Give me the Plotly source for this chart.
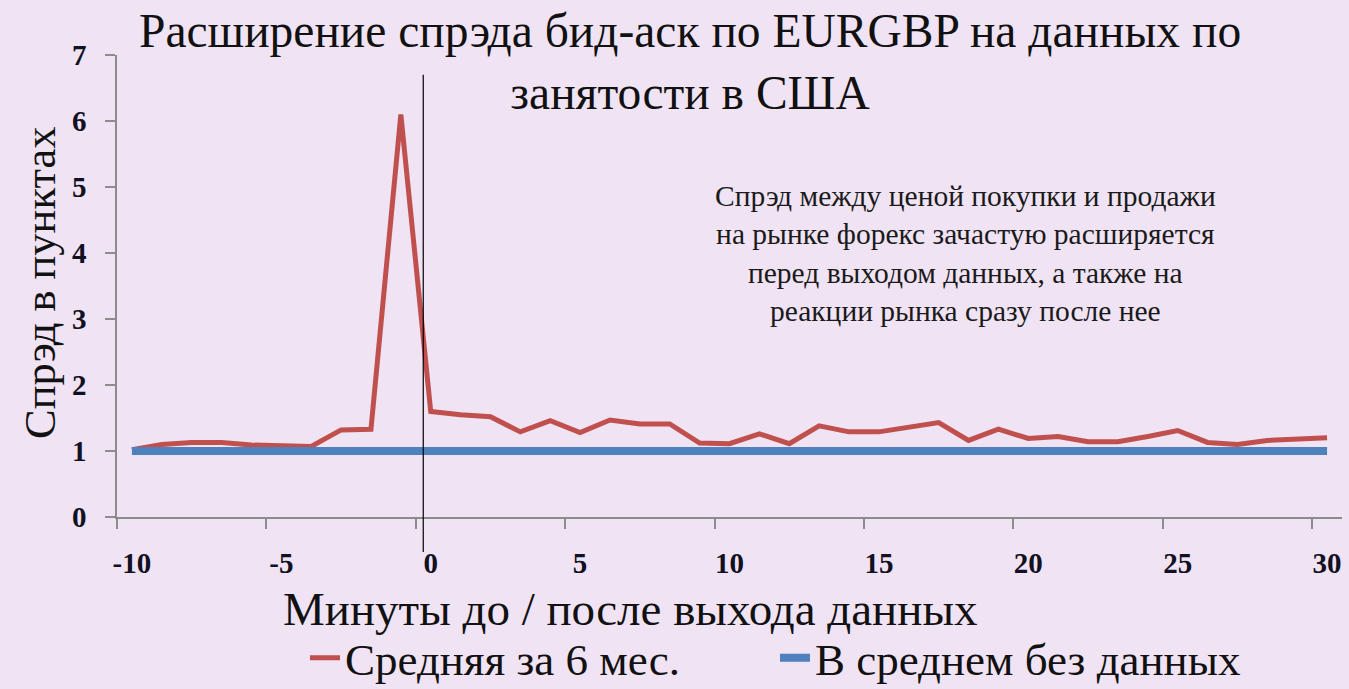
import plotly.graph_objects as go

# ---- data ----
minutes = list(range(-10, 31))
avg_6m = [1.02, 1.10, 1.13, 1.13, 1.09, 1.08, 1.07, 1.32, 1.33, 6.10,
          1.60, 1.55, 1.52, 1.29, 1.46, 1.28, 1.47, 1.41, 1.41, 1.12,
          1.11, 1.26, 1.11, 1.38, 1.29, 1.29, 1.36, 1.43, 1.16, 1.33,
          1.19, 1.22, 1.14, 1.14, 1.22, 1.31, 1.13, 1.10, 1.16, 1.18, 1.20]
avg_no_data = [1.0] * len(minutes)
release_marker = -0.25
x_tickvals = [-10, -5, 0, 5, 10, 15, 20, 25, 30]
x_ticktext = ["-10", "-5", "0", "5", "10", "15", "20", "25", "30"]
y_ticks = [0, 1, 2, 3, 4, 5, 6, 7]

FONT = "Liberation Serif"
BG = "#f0e3f4"
TXT = "#111111"

fig = go.Figure()
fig.add_trace(go.Scatter(x=minutes, y=avg_6m, mode="lines", name="Средняя за 6 мес.",
                         line=dict(color="#c0504d", width=5)))
fig.add_trace(go.Scatter(x=minutes, y=avg_no_data, mode="lines", name="В среднем без данных",
                         line=dict(color="#4f81bd", width=8)))

fig.add_shape(type="line", xref="x", yref="paper", x0=release_marker, x1=release_marker,
              y0=-0.076, y1=0.957, line=dict(color="#000000", width=1.2))

# chart title
fig.add_annotation(
    text="Расширение спрэда бид-аск по EURGBP на данных по<br>занятости в США",
    xref="paper", yref="paper", x=(690 - 117) / 1225, y=(517 - 62) / 462,
    xanchor="center", yanchor="middle", showarrow=False, align="center",
    font=dict(family=FONT, size=47.5, color=TXT))

# explanatory note
fig.add_annotation(
    text="Спрэд между ценой покупки и продажи<br>на рынке форекс зачастую расширяется<br>"
         "перед выходом данных, а также на<br>реакции рынка сразу после нее",
    xref="paper", yref="paper", x=(965 - 117) / 1225, y=(517 - 253) / 462,
    xanchor="center", yanchor="middle", showarrow=False, align="center",
    font=dict(family=FONT, size=29.5, color="#1a1a1a"))

# axis titles
fig.add_annotation(
    text="Минуты до / после выхода данных",
    xref="paper", yref="paper", x=(630 - 117) / 1225, y=(517 - 609) / 462,
    xanchor="center", yanchor="middle", showarrow=False,
    font=dict(family=FONT, size=47, color=TXT))
fig.add_annotation(
    text="Спрэд в пунктах", textangle=-90,
    xref="paper", yref="paper", x=(40 - 117) / 1225, y=(517 - 283) / 462,
    xanchor="center", yanchor="middle", showarrow=False,
    font=dict(family=FONT, size=44.5, color=TXT))

fig.update_layout(
    width=1349, height=689,
    margin=dict(l=117, r=7, t=55, b=172, autoexpand=False),
    paper_bgcolor=BG, plot_bgcolor=BG,
    font=dict(family=FONT, color=TXT),
    showlegend=True,
    legend=dict(orientation="h", x=(305 - 117) / 1225, y=(517 - 658) / 462,
                xanchor="left", yanchor="middle",
                font=dict(family=FONT, size=45, color=TXT),
                bgcolor="rgba(0,0,0,0)", entrywidth=425, entrywidthmode="pixels"),
    xaxis=dict(range=[-10.5, 30.5], tickvals=x_tickvals, ticktext=x_ticktext, ticks="",
               showgrid=False, zeroline=False, showline=True, linecolor="#8c8c8c", linewidth=1.5,
               tickfont=dict(family=FONT, size=29, color="#111122", weight="bold"),
               ticklabelstandoff=19,
               minor=dict(tick0=-10.5, dtick=5, ticks="outside", ticklen=10,
                          tickcolor="#8c8c8c", tickwidth=1.5, showgrid=False)),
    yaxis=dict(range=[0, 7], tickvals=y_ticks, ticks="outside", ticklen=10, tickwidth=1.5,
               tickcolor="#8c8c8c", showgrid=False, zeroline=False, showline=True,
               linecolor="#8c8c8c", linewidth=1.5, ticklabelstandoff=13,
               tickfont=dict(family=FONT, size=29, color="#111122", weight="bold")),
)

fig.write_html("out.html", config={"displayModeBar": False},
               post_script="document.body.style.margin='0px';")
